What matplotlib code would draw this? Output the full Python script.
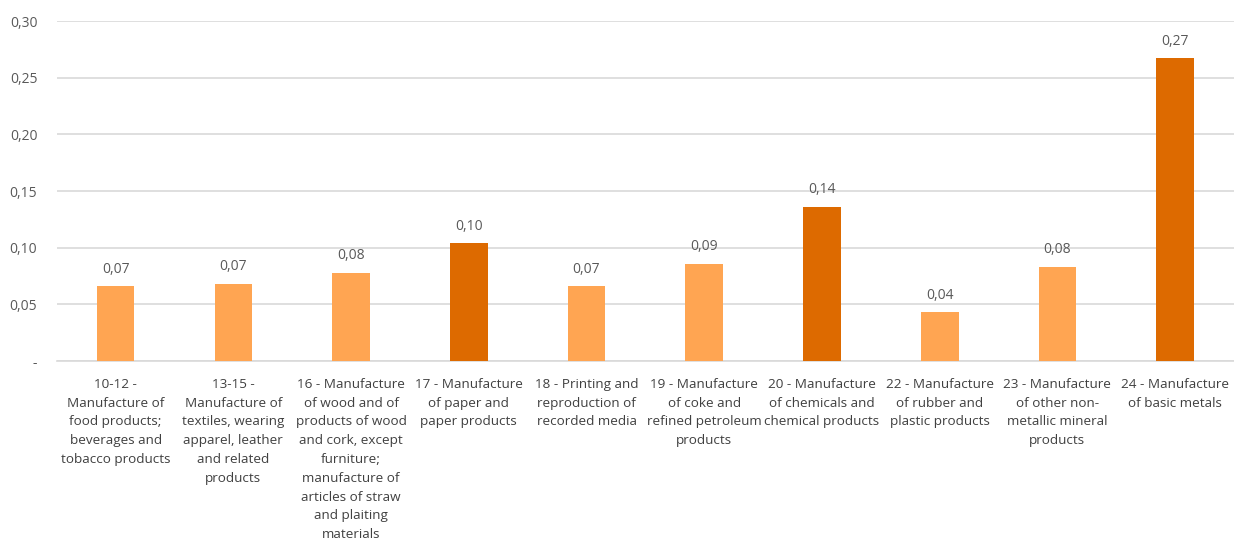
import matplotlib
matplotlib.use("Agg")
import matplotlib.pyplot as plt
from matplotlib.ticker import FuncFormatter

from matplotlib import rcParams
rcParams['font.family'] = ['Open Sans', 'DejaVu Sans']

# data
categories = [
    "10-12 -\nManufacture of\nfood products;\nbeverages and\ntobacco products",
    "13-15 -\nManufacture of\ntextiles, wearing\napparel, leather\nand related\nproducts",
    "16 - Manufacture\nof wood and of\nproducts of wood\nand cork, except\nfurniture;\nmanufacture of\narticles of straw\nand plaiting\nmaterials",
    "17 - Manufacture\nof paper and\npaper products",
    "18 - Printing and\nreproduction of\nrecorded media",
    "19 - Manufacture\nof coke and\nrefined petroleum\nproducts",
    "20 - Manufacture\nof chemicals and\nchemical products",
    "22 - Manufacture\nof rubber and\nplastic products",
    "23 - Manufacture\nof other non-\nmetallic mineral\nproducts",
    "24 - Manufacture\nof basic metals",
]
values = [0.066, 0.068, 0.078, 0.104, 0.066, 0.086, 0.136, 0.043, 0.083, 0.267]
highlight = [False, False, False, True, False, False, True, False, False, True]

light = "#FFA552"
dark = "#DD6A00"
grey_text = "#595959"

fig = plt.figure(figsize=(12.34, 5.39), dpi=100)
ax = fig.add_axes([0.046, 0.330, 0.954, 0.631])

x = list(range(len(values)))
colors = [dark if h else light for h in highlight]
ax.bar(x, values, width=0.32, color=colors, zorder=3)

for xi, v in zip(x, values):
    ax.annotate(f"{v:.2f}".replace(".", ","), (xi, v), xytext=(0, 7),
                textcoords="offset points", ha="center", va="bottom",
                fontsize=10, color=grey_text)

ax.set_xlim(-0.5, len(values) - 0.5)
ax.set_ylim(0, 0.30)
ax.set_yticks([0, 0.05, 0.10, 0.15, 0.20, 0.25, 0.30])


def fmt(v, pos):
    if abs(v) < 1e-9:
        return "-"
    return f"{v:.2f}".replace(".", ",")


ax.yaxis.set_major_formatter(FuncFormatter(fmt))
ax.set_xticks(x)
ax.set_xticklabels(categories, fontsize=9.7, color="#404040", linespacing=1.58)
ax.tick_params(axis="y", labelsize=10, colors=grey_text, length=0, pad=14)
ax.tick_params(axis="x", length=0, pad=12)

ax.grid(axis="y", color="#D9D9D9", linewidth=1.2, zorder=0)
for s in ["top", "right", "left"]:
    ax.spines[s].set_visible(False)
ax.spines["bottom"].set_color("#D9D9D9")
ax.spines["bottom"].set_linewidth(1.2)

fig.savefig("out.png", dpi=100, facecolor="white")
